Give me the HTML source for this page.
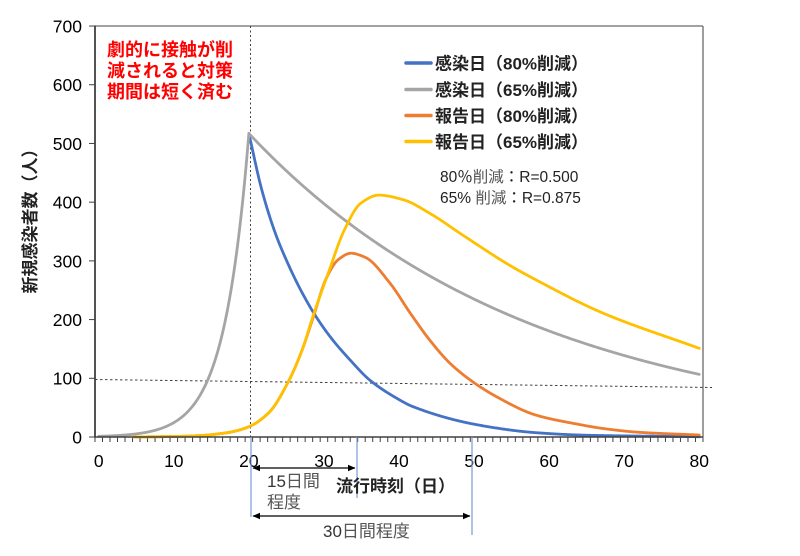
<!DOCTYPE html>
<html><head><meta charset="utf-8">
<style>
html,body{margin:0;padding:0;background:#fff;}
svg{display:block;}
text{font-family:"Liberation Sans","Noto Sans CJK JP",sans-serif;}
</style></head>
<body>
<svg id="c" width="800" height="556" viewBox="0 0 800 556" xmlns="http://www.w3.org/2000/svg">
<defs>
<marker id="ah" markerWidth="8" markerHeight="8" refX="7" refY="4" orient="auto-start-reverse" markerUnits="userSpaceOnUse">
<path d="M0,0.8 L7.5,4 L0,7.2 Z" fill="#000"/>
</marker>
</defs>
<rect width="800" height="556" fill="#fff"/>
<line x1="95" y1="26" x2="703" y2="26" stroke="#6a6a6a" stroke-width="1.3"/>
<line x1="703" y1="26" x2="703" y2="437" stroke="#6a6a6a" stroke-width="1.3"/>
<g id="ticks" stroke="#404040" stroke-width="1"></g>
<line x1="95" y1="379.5" x2="712" y2="387.5" stroke="#404040" stroke-width="1" stroke-dasharray="2.5,2.5"/>
<line x1="250.5" y1="26" x2="250.5" y2="437" stroke="#404040" stroke-width="1" stroke-dasharray="2,2.5"/>
<g id="series" fill="none" stroke-linejoin="round" stroke-linecap="round"></g>
<line x1="95" y1="437" x2="703" y2="437" stroke="#404040" stroke-width="1.4"/>
<line x1="95" y1="25.5" x2="95" y2="437.7" stroke="#404040" stroke-width="1.8"/>
<g font-size="17.5" fill="#000" text-anchor="end">
<text x="82" y="32.5">700</text>
<text x="82" y="91.2">600</text>
<text x="82" y="149.9">500</text>
<text x="82" y="208.6">400</text>
<text x="82" y="267.3">300</text>
<text x="82" y="326">200</text>
<text x="82" y="384.7">100</text>
<text x="82" y="443.4">0</text>
</g>
<g font-size="17.5" fill="#000" text-anchor="middle" id="xl"></g>
<text transform="translate(36,217) rotate(-90)" text-anchor="middle" font-size="17" font-weight="bold" fill="#222">新規感染者数（人）</text>
<g font-size="18" font-weight="bold" fill="#ff0000">
<text x="107" y="56">劇的に接触が削</text>
<text x="107" y="77">減されると対策</text>
<text x="107" y="98">期間は短く済む</text>
</g>
<g stroke-width="3.5" stroke-linecap="round">
<line x1="406" y1="63" x2="431" y2="63" stroke="#4472C4"/>
<line x1="406" y1="89.5" x2="431" y2="89.5" stroke="#A5A5A5"/>
<line x1="406" y1="115.5" x2="431" y2="115.5" stroke="#ED7D31"/>
<line x1="406" y1="141.5" x2="431" y2="141.5" stroke="#FFC000"/>
</g>
<g font-size="17" font-weight="bold" fill="#222">
<text x="435" y="69.5">感染日（80%削減）</text>
<text x="435" y="96">感染日（65%削減）</text>
<text x="435" y="122">報告日（80%削減）</text>
<text x="435" y="148">報告日（65%削減）</text>
</g>
<g font-size="15.5" fill="#222">
<text x="440" y="182">80<tspan>％</tspan><tspan fill="#555">削減</tspan>：R=0.500</text>
<text x="440" y="203">65% <tspan fill="#555">削減</tspan>：R=0.875</text>
</g>
<g stroke="#7b9bd6" stroke-width="1.2">
<line x1="251" y1="437" x2="251" y2="517"/>
<line x1="357" y1="437" x2="357" y2="498"/>
<line x1="472" y1="437" x2="472" y2="535"/>
</g>
<g stroke="#000" stroke-width="1.3">
<line x1="253" y1="468" x2="355" y2="468" marker-start="url(#ah)" marker-end="url(#ah)"/>
<line x1="253" y1="516" x2="470" y2="516" marker-start="url(#ah)" marker-end="url(#ah)"/>
</g>
<g font-size="17" fill="#333">
<text x="267" y="487">15<tspan fill="#555">日間</tspan></text>
<text x="267" y="508" fill="#555">程度</text>
<text x="323" y="537">30<tspan fill="#555">日間程度</tspan></text>
</g>
<text x="336" y="492" font-size="17" font-weight="bold" fill="#222">流行時刻（日）</text>
</svg>
<script>
(function(){
var NS="http://www.w3.org/2000/svg";
function X(t){return 98.75+7.506*t;}
function Y(v){return 437-v*0.5871;}
var tg=document.getElementById('ticks');
function ln(p,x1,y1,x2,y2){var l=document.createElementNS(NS,'line');l.setAttribute('x1',x1);l.setAttribute('y1',y1);l.setAttribute('x2',x2);l.setAttribute('y2',y2);p.appendChild(l);return l;}
for(var k=0;k<=81;k++){var x=95+7.506*k;ln(tg,x,437,x,442);}
for(var i=0;i<=7;i++){var y=Y(i*100);ln(tg,89,y,95,y);}
var xl=document.getElementById('xl');
for(var t=0;t<=80;t+=10){var tx=document.createElementNS(NS,'text');tx.setAttribute('x',X(t));tx.setAttribute('y',467);tx.textContent=String(t);xl.appendChild(tx);}
function mono(P){
 var n=P.length,xs=P.map(function(p){return p[0]}),ys=P.map(function(p){return p[1]});
 var d=[],m=[];
 for(var i=0;i<n-1;i++)d.push((ys[i+1]-ys[i])/(xs[i+1]-xs[i]));
 m[0]=d[0];m[n-1]=d[n-2];
 for(var i=1;i<n-1;i++){ if(d[i-1]*d[i]<=0)m[i]=0; else { var h0=xs[i]-xs[i-1],h1=xs[i+1]-xs[i]; var w1=2*h1+h0,w2=h1+2*h0; m[i]=(w1+w2)/(w1/d[i-1]+w2/d[i]); } }
 return function(x){
  if(x<=xs[0])return ys[0]; if(x>=xs[n-1])return ys[n-1];
  var i=0; while(x>xs[i+1])i++;
  var h=xs[i+1]-xs[i],s=(x-xs[i])/h,s2=s*s,s3=s2*s;
  return (2*s3-3*s2+1)*ys[i]+(s3-2*s2+s)*h*m[i]+(-2*s3+3*s2)*ys[i+1]+(s3-s2)*h*m[i+1];
 };
}
function path(f,t0,t1,step,color){
 var d='';for(var t=t0;t<=t1+1e-9;t+=step){d+=(d?'L':'M')+X(t).toFixed(2)+','+Y(Math.max(0,f(t))).toFixed(2);}
 var p=document.createElementNS(NS,'path');p.setAttribute('d',d);p.setAttribute('stroke',color);p.setAttribute('stroke-width','2.8');
 document.getElementById('series').appendChild(p);
}
var pre=function(t){return 17.5*Math.exp(0.305*(t-20));};
var blue=mono([[20,517],[21.7,422],[23.5,348],[25.25,294],[27,248],[28.8,208],[31,168],[33.5,131],[36.1,97],[39.7,66],[41.8,52],[50.6,20.4],[58.2,7.4],[65,3],[80,0.5]]);
var yel=mono([[15,3.8],[17.5,8.2],[20,17.5],[22.7,42],[25.25,94],[27,145],[28.6,208],[30.6,280],[32.7,352],[34.9,398],[37.3,412],[40.6,404],[44.1,381],[48.6,343],[54.8,292],[58.2,268],[67,212],[80,151]]);
var ora=mono([[15,3.8],[17.5,8.2],[20,17.5],[22.7,42],[25.25,94],[27,145],[28.6,205],[30.3,270],[31.9,302],[33.6,313],[35.5,306],[38.8,262],[41.5,211],[44.1,165],[46.8,125.5],[49.5,97],[53,68.6],[58.2,37.5],[63.9,21.6],[67,14.8],[72,8],[80,3.4]]);
var gray=function(t){return t<=20?517*Math.exp(0.305*(t-20)):517*Math.exp(-0.0263*(t-20));};
path(blue,20,80,0.1,'#4472C4');
path(gray,0,80,0.1,'#A5A5A5');
path(function(t){return t<15?pre(t):ora(t);},5,80,0.1,'#ED7D31');
path(function(t){return t<15?(t<5?0:pre(t)):yel(t);},4.6,80,0.1,'#FFC000');
})();
</script>
</body></html>
